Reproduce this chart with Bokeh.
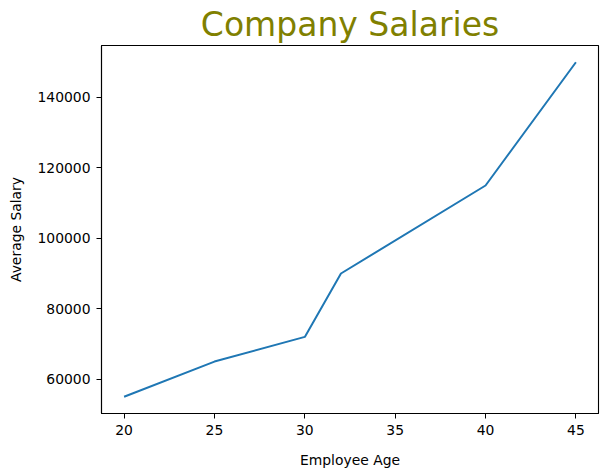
from bokeh.plotting import figure
from bokeh.models import Range1d, FixedTicker, NumeralTickFormatter
from bokeh.embed import file_html
from bokeh.resources import INLINE

ages = [20, 25, 30, 32, 40, 45]
salaries = [55000, 65000, 72000, 90000, 115000, 150000]
x_ticks = [20, 25, 30, 35, 40, 45]
y_ticks = [60000, 80000, 100000, 120000, 140000]
title_text = "Company Salaries"
x_label = "Employee Age"
y_label = "Average Salary"

FONT = "DejaVu Sans"

p = figure(width=600, height=470, output_backend="svg", toolbar_location=None,
           min_border_left=101, min_border_right=2, min_border_top=0, min_border_bottom=57,
           x_range=Range1d(18.75, 46.25), y_range=Range1d(50250, 154750))
p.title.text = title_text
p.title.align = "center"
p.title.text_font = FONT
p.title.text_font_size = "33px"
p.title.text_font_style = "normal"
p.title.text_color = "#808000"
p.title.standoff = 4
p.grid.visible = False
p.outline_line_color = "black"
p.outline_line_width = 1.1

p.line(ages, salaries, line_color="#1f77b4", line_width=2)

for ax in (p.xaxis[0], p.yaxis[0]):
    ax.axis_line_color = "black"
    ax.axis_line_width = 1.1
    ax.major_tick_line_color = "black"
    ax.major_tick_out = 5
    ax.major_tick_in = 0
    ax.minor_tick_out = 0
    ax.minor_tick_in = 0
    ax.major_label_text_font = FONT
    ax.major_label_text_font_size = "13.9px"
    ax.major_label_text_color = "black"
    ax.major_label_standoff = 6
    ax.axis_label_text_font = FONT
    ax.axis_label_text_font_size = "13.9px"
    ax.axis_label_text_font_style = "normal"
    ax.axis_label_text_color = "black"

p.xaxis.ticker = FixedTicker(ticks=x_ticks)
p.yaxis.ticker = FixedTicker(ticks=y_ticks)
p.yaxis.formatter = NumeralTickFormatter(format="0")
p.xaxis.axis_label = x_label
p.yaxis.axis_label = y_label
p.xaxis.axis_label_standoff = 14
p.yaxis.axis_label_standoff = 10

open("out.html", "w").write(file_html(p, INLINE))
